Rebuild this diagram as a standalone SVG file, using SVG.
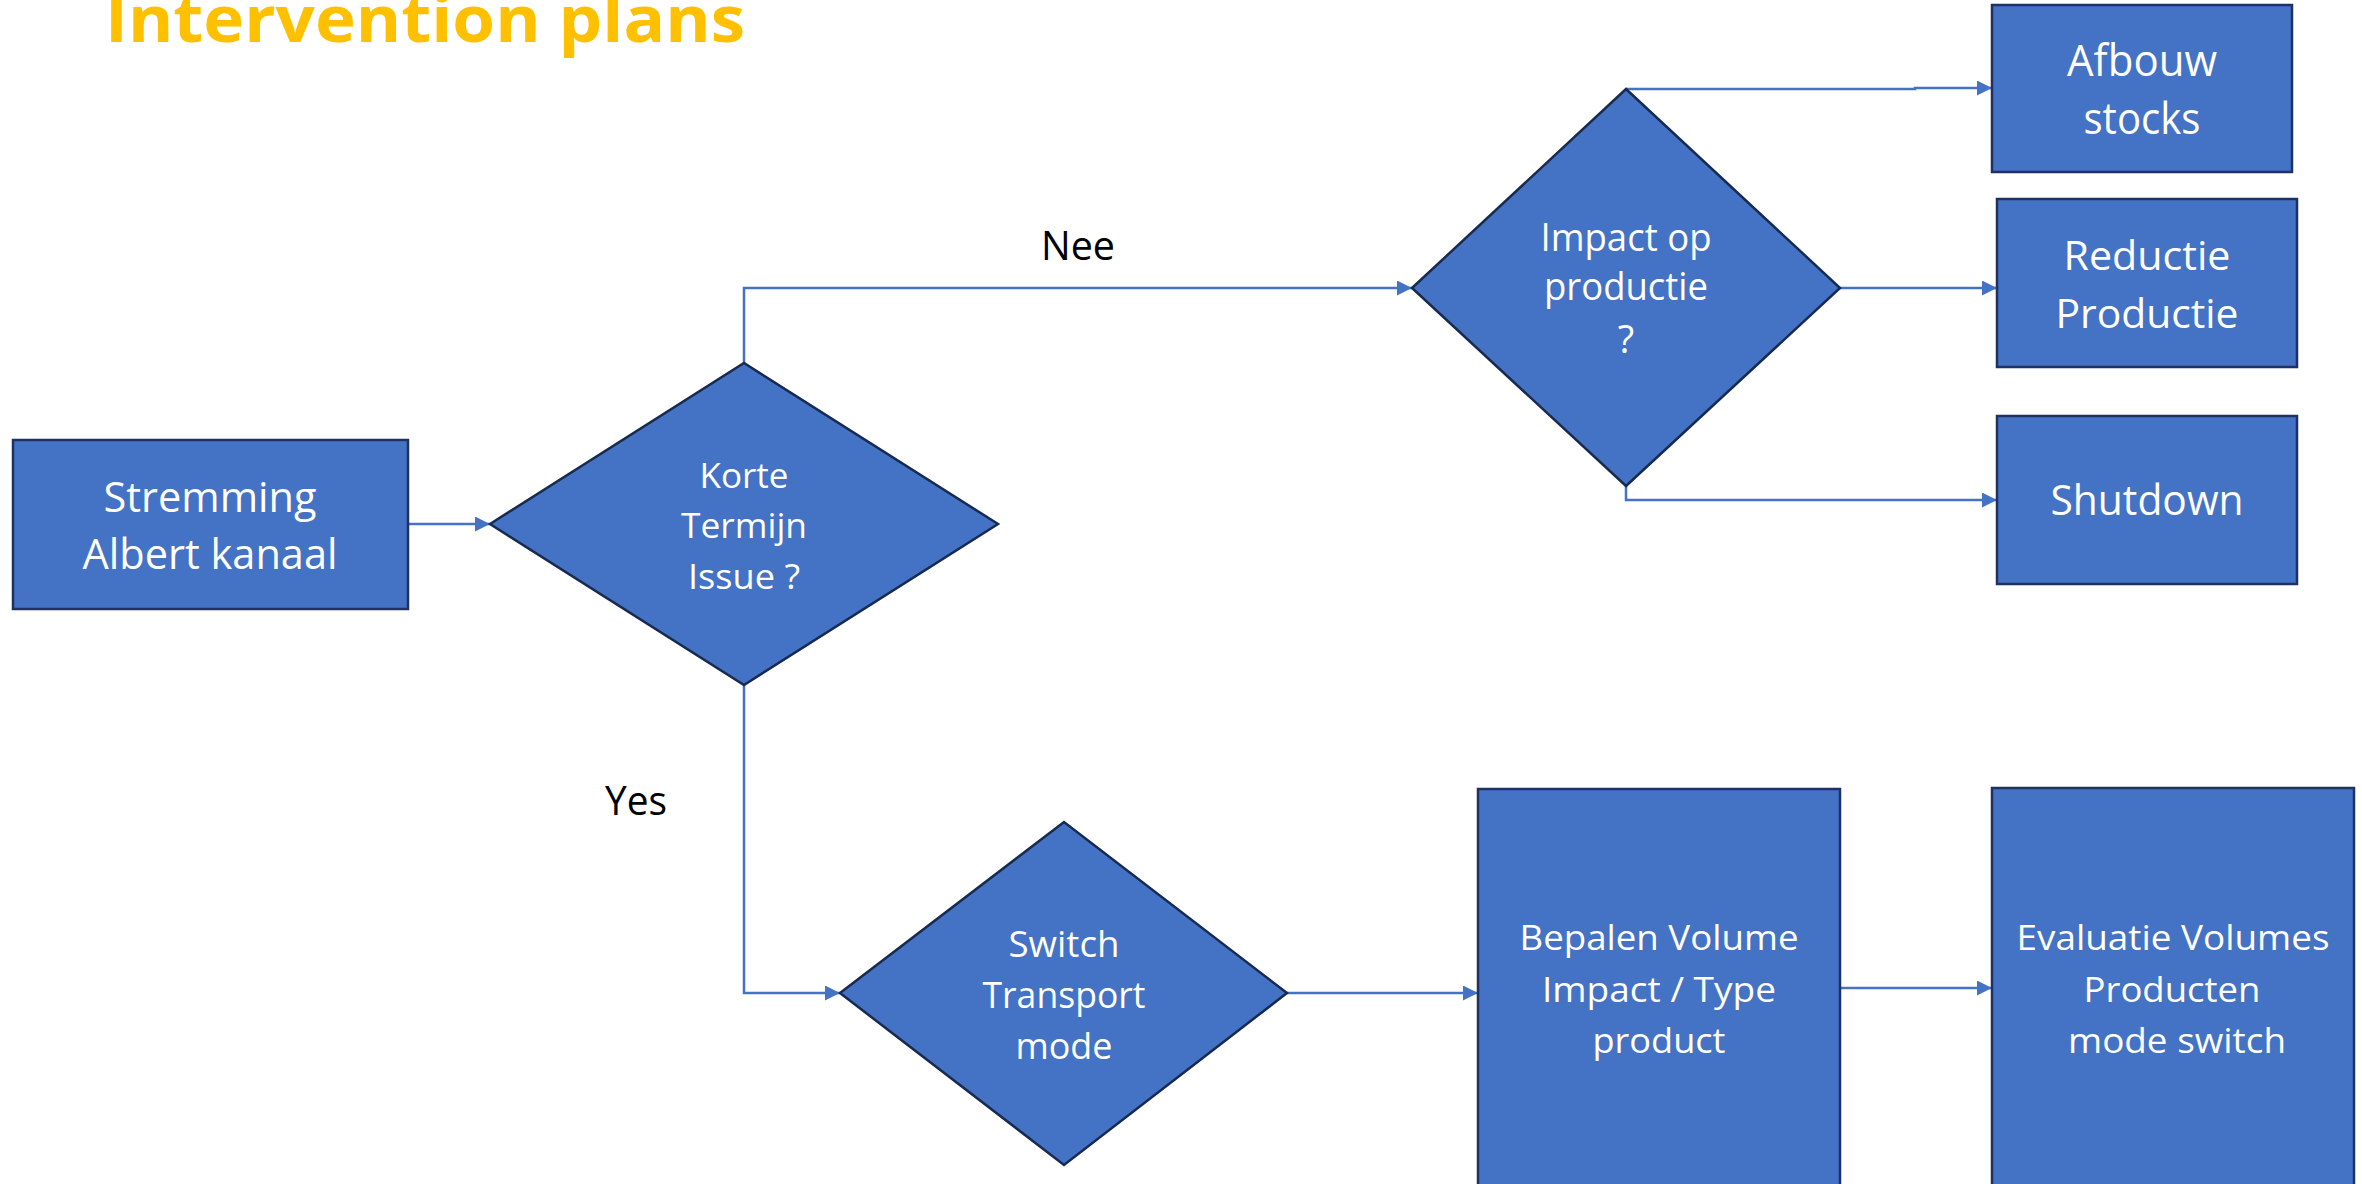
<svg xmlns="http://www.w3.org/2000/svg" width="2362" height="1184" viewBox="0 0 2362 1184">
<defs>
<marker id="arr" markerUnits="userSpaceOnUse" markerWidth="16" markerHeight="16" refX="15" refY="7.5" orient="auto">
<path d="M0,0 L15,7.5 L0,15 z" fill="#4472C4"/>
</marker>
<style>
.box{fill:#4472C4;stroke:#1F3160;stroke-width:2.5}
.dia{fill:#4472C4;stroke:#172A4F;stroke-width:2.5}
.t{font-family:"Open Sans","Noto Sans","Liberation Sans",sans-serif;fill:#FFFFFF;text-anchor:middle}
.lbl{font-family:"Open Sans","Noto Sans","Liberation Sans",sans-serif;fill:#000000;font-size:40px}
.c{fill:none;stroke:#4472C4;stroke-width:2.5}
</style>
</defs>
<rect width="2362" height="1184" fill="#FFFFFF"/>
<text x="105" y="42" font-family="'Open Sans','Noto Sans','Liberation Sans',sans-serif" font-weight="bold" font-size="64" fill="#FFC000" textLength="640" lengthAdjust="spacingAndGlyphs">Intervention plans</text>

<g id="connectors">
<path class="c" d="M408,524 L490,524" marker-end="url(#arr)"/>
<path class="c" d="M744,363 L744,288 L1412,288" marker-end="url(#arr)"/>
<path class="c" d="M744,685 L744,993 L840,993" marker-end="url(#arr)"/>
<path class="c" d="M1626,89 L1915,89 L1915,88 L1992,88" marker-end="url(#arr)"/>
<path class="c" d="M1840,288 L1997,288" marker-end="url(#arr)"/>
<path class="c" d="M1626,486 L1626,500 L1997,500" marker-end="url(#arr)"/>
<path class="c" d="M1287,993 L1478,993" marker-end="url(#arr)"/>
<path class="c" d="M1840,988 L1992,988" marker-end="url(#arr)"/>
</g>

<text class="lbl" x="1041" y="260" textLength="74" lengthAdjust="spacingAndGlyphs">Nee</text>
<text class="lbl" x="605" y="815" textLength="62" lengthAdjust="spacingAndGlyphs">Yes</text>

<g id="stremming">
<rect class="box" x="13" y="440" width="395" height="169"/>
<text class="t" font-size="42" x="210" y="512" textLength="213" lengthAdjust="spacingAndGlyphs">Stremming</text>
<text class="t" font-size="42" x="210" y="569" textLength="255" lengthAdjust="spacingAndGlyphs">Albert kanaal</text>
</g>

<g id="korte-termijn">
<polygon class="dia" points="490,524 744,363 998,524 744,685"/>
<text class="t" font-size="34" x="744" y="488" textLength="89" lengthAdjust="spacingAndGlyphs">Korte</text>
<text class="t" font-size="34" x="744" y="538" textLength="126" lengthAdjust="spacingAndGlyphs">Termijn</text>
<text class="t" font-size="34" x="744" y="589" textLength="112" lengthAdjust="spacingAndGlyphs">Issue ?</text>
</g>

<g id="impact">
<polygon class="dia" points="1412,288 1626,89 1840,288 1626,486"/>
<text class="t" font-size="38" x="1626" y="251" textLength="171" lengthAdjust="spacingAndGlyphs">Impact op</text>
<text class="t" font-size="38" x="1626" y="300" textLength="164" lengthAdjust="spacingAndGlyphs">productie</text>
<text class="t" font-size="38" x="1626" y="353">?</text>
</g>

<g id="afbouw">
<rect class="box" x="1992" y="5" width="300" height="167"/>
<text class="t" font-size="43" x="2142" y="76" textLength="150" lengthAdjust="spacingAndGlyphs">Afbouw</text>
<text class="t" font-size="43" x="2142" y="134" textLength="117" lengthAdjust="spacingAndGlyphs">stocks</text>
</g>

<g id="reductie">
<rect class="box" x="1997" y="199" width="300" height="168"/>
<text class="t" font-size="41" x="2147" y="270" textLength="167" lengthAdjust="spacingAndGlyphs">Reductie</text>
<text class="t" font-size="41" x="2147" y="328" textLength="183" lengthAdjust="spacingAndGlyphs">Productie</text>
</g>

<g id="shutdown">
<rect class="box" x="1997" y="416" width="300" height="168"/>
<text class="t" font-size="42" x="2147" y="515" textLength="193" lengthAdjust="spacingAndGlyphs">Shutdown</text>
</g>

<g id="switch">
<polygon class="dia" points="840,993 1064,822 1287,993 1064,1165"/>
<text class="t" font-size="37" x="1064" y="957" textLength="111" lengthAdjust="spacingAndGlyphs">Switch</text>
<text class="t" font-size="37" x="1064" y="1008" textLength="163" lengthAdjust="spacingAndGlyphs">Transport</text>
<text class="t" font-size="37" x="1064" y="1059" textLength="97" lengthAdjust="spacingAndGlyphs">mode</text>
</g>

<g id="bepalen">
<rect class="box" x="1478" y="789" width="362" height="420"/>
<text class="t" font-size="34" x="1659" y="950" textLength="279" lengthAdjust="spacingAndGlyphs">Bepalen Volume</text>
<text class="t" font-size="34" x="1659" y="1002" textLength="234" lengthAdjust="spacingAndGlyphs">Impact / Type</text>
<text class="t" font-size="34" x="1659" y="1053" textLength="133" lengthAdjust="spacingAndGlyphs">product</text>
</g>

<g id="evaluatie">
<rect class="box" x="1992" y="788" width="362" height="420"/>
<text class="t" font-size="34" x="2173" y="950" textLength="313" lengthAdjust="spacingAndGlyphs">Evaluatie Volumes</text>
<text class="t" font-size="34" x="2172" y="1002" textLength="177" lengthAdjust="spacingAndGlyphs">Producten</text>
<text class="t" font-size="34" x="2177" y="1053" textLength="218" lengthAdjust="spacingAndGlyphs">mode switch</text>
</g>
</svg>
